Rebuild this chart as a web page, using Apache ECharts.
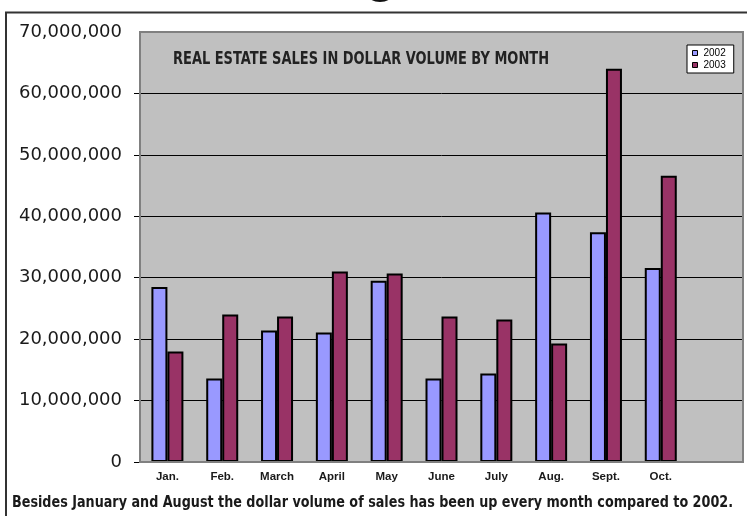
<!DOCTYPE html>
<html><head><meta charset="utf-8">
<script src="https://cdn.jsdelivr.net/npm/echarts@6/dist/echarts.min.js"></script>
<style>html,body{margin:0;padding:0;background:#fff}#c{width:747px;height:516px}</style>
</head><body><div id="c"></div>
<script>
const categories = ['Jan.', 'Feb.', 'March', 'April', 'May', 'June', 'July', 'Aug.', 'Sept.', 'Oct.', ''];
const sales2002 = [28500000, 13600000, 21400000, 21100000, 29500000, 13600000, 14400000, 40600000, 37400000, 31600000, null];
const sales2003 = [18000000, 24000000, 23700000, 31000000, 30700000, 23700000, 23200000, 19300000, 64000000, 46600000, null];
const seriesNames = ['2002', '2003'];
const yMin = 0, yMax = 70000000, yStep = 10000000;
const chartTitle = 'REAL ESTATE SALES IN DOLLAR VOLUME BY MONTH';
const footnote = 'Besides January and August the dollar volume of sales has been up every month compared to 2002.';

function fitScale(text, font, target) {
  const ctx = document.createElement('canvas').getContext('2d');
  ctx.font = font;
  return target / ctx.measureText(text).width;
}
const titleFont = 'bold 18px "DejaVu Sans"';
const noteFont = 'bold 16px "DejaVu Sans"';
const titleScale = fitScale(chartTitle, titleFont, 376);
const noteScale = fitScale(footnote, noteFont, 721);

const chart = echarts.init(document.getElementById('c'), null, {renderer: 'canvas'});
chart.setOption({
  animation: false,
  backgroundColor: '#fff',
  grid: {
    left: 140, top: 32, width: 603, height: 430,
    show: true, backgroundColor: '#c0c0c0', borderColor: '#808080', borderWidth: 2
  },
  legend: {
    data: seriesNames, orient: 'vertical', left: 687, top: 45,
    backgroundColor: '#fff', borderColor: '#000', borderWidth: 1,
    padding: [3, 8, 3, 5], itemWidth: 5, itemHeight: 5, itemGap: 2, icon: 'rect',
    itemStyle: {borderColor: '#000', borderWidth: 1},
    textStyle: {fontSize: 10, fontFamily: '"Liberation Sans", Arial', color: '#000', padding: [0, 0, 0, 1]}
  },
  xAxis: {
    type: 'category', data: categories,
    axisLine: {show: false}, axisTick: {show: false},
    axisLabel: {interval: 0, margin: 9, fontSize: 11.5, fontWeight: 'bold', fontFamily: '"Liberation Sans", Arial', color: '#1a1a1a'}
  },
  yAxis: {
    type: 'value', min: yMin, max: yMax, interval: yStep,
    axisLine: {show: false},
    axisTick: {show: true, length: 6, lineStyle: {color: '#000', width: 1}},
    splitLine: {show: true, lineStyle: {color: '#000', width: 1}},
    axisLabel: {
      margin: 18, fontSize: 18, fontFamily: '"DejaVu Sans"', color: '#1a1a1a',
      formatter: v => v.toLocaleString('en-US')
    }
  },
  series: [
    {name: seriesNames[0], type: 'bar', data: sales2002, barWidth: 16, barGap: '0%',
     itemStyle: {color: '#9999ff', borderColor: '#000', borderWidth: 2}},
    {name: seriesNames[1], type: 'bar', data: sales2003, barWidth: 16, barGap: '0%',
     itemStyle: {color: '#993366', borderColor: '#000', borderWidth: 2}}
  ],
  graphic: [
    {type: 'text', x: 173, y: 59.5, scaleX: titleScale, z: 10,
     style: {text: chartTitle, font: titleFont, fill: '#222', verticalAlign: 'middle', align: 'left'}},
    {type: 'text', x: 12, y: 503, scaleX: noteScale, z: 10,
     style: {text: footnote, font: noteFont, fill: '#1a1a1a', verticalAlign: 'middle', align: 'left'}},
    {type: 'polyline', z: 10, shape: {points: [[6, 516], [6, 12.5], [747, 12.5]]},
     style: {stroke: '#333', lineWidth: 2, fill: null}},
    {type: 'ellipse', z: 10, shape: {cx: 380, cy: -5, rx: 12, ry: 7}, style: {fill: '#111'}},
    {type: 'rect', z: 5, shape: {x: 140, y: 32, width: 603, height: 430},
     style: {fill: null, stroke: '#808080', lineWidth: 2}},
    {type: 'rect', z: 5, shape: {x: 132, y: 30, width: 7, height: 4},
     style: {fill: '#fff'}}
  ]
});
</script></body></html>
